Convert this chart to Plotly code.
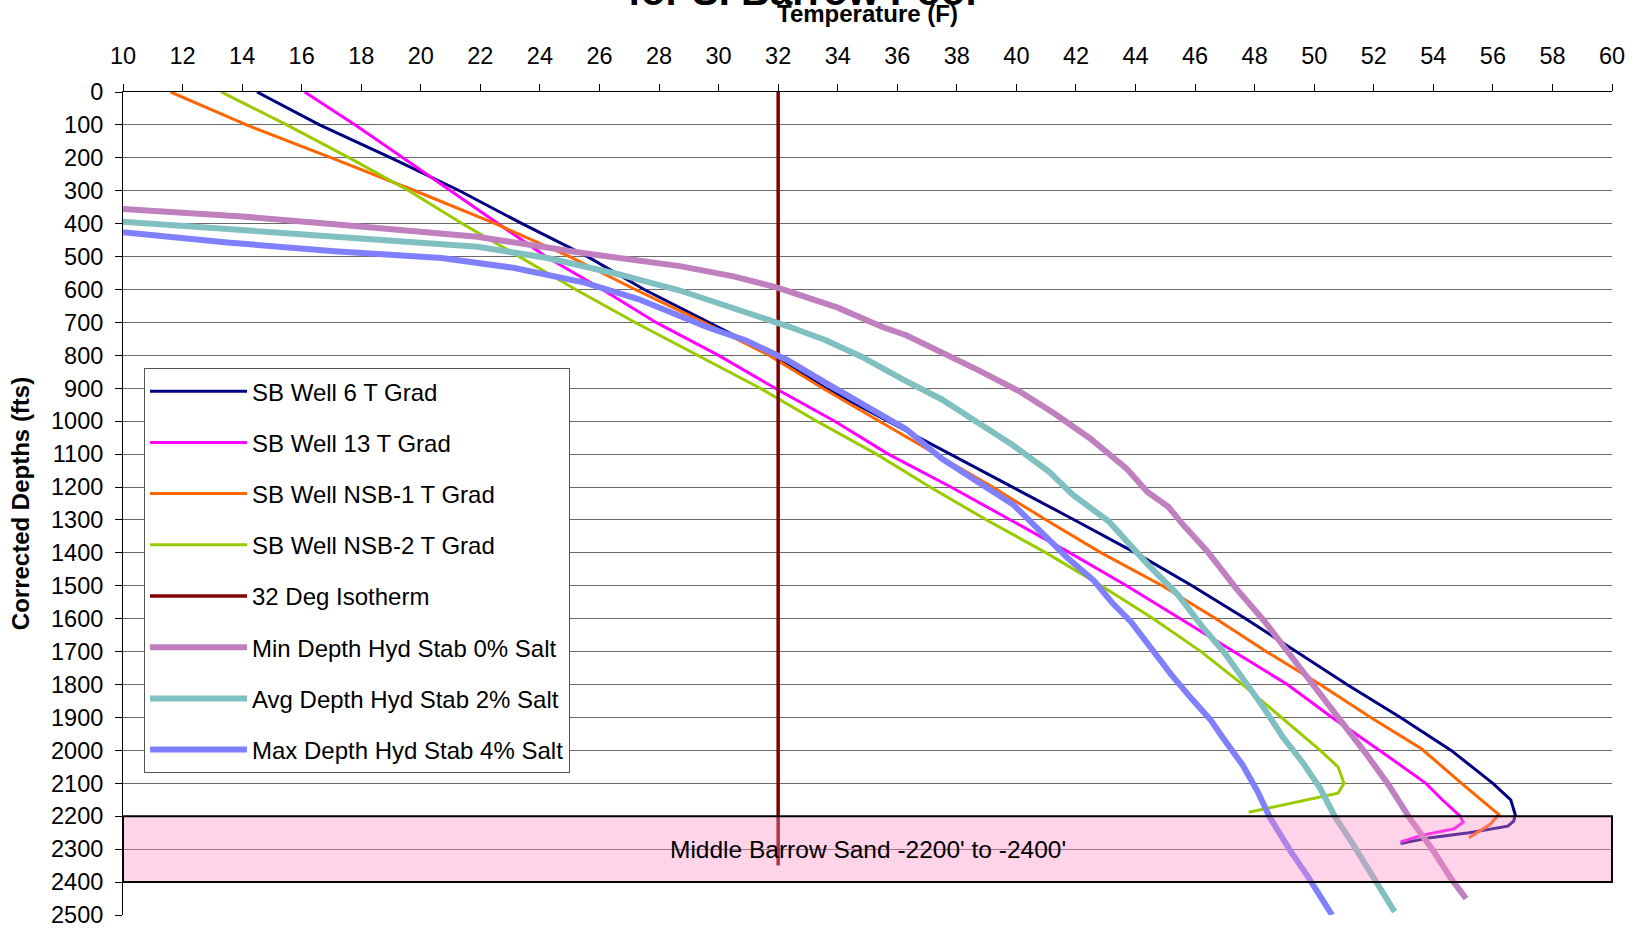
import plotly.graph_objects as go

# ---------------- data ----------------
well6_depth = [0, 100, 200, 300, 400, 500, 600, 700, 800, 900, 1000, 1100, 1200, 1300, 1400, 1500,
               1600, 1700, 1800, 1900, 2000, 2100, 2150, 2195, 2215, 2230, 2250, 2265, 2283]
well6_temp = [14.5, 16.6, 19.0, 21.3, 23.4, 25.6, 27.5, 29.7, 31.85, 33.6, 35.7, 37.8, 39.9, 41.95, 44.0, 45.9,
              47.7, 49.4, 51.1, 52.9, 54.6, 56.0, 56.6, 56.75, 56.7, 56.5, 55.2, 53.9, 52.9]

well13_depth = [0, 100, 200, 300, 400, 500, 600, 700, 800, 900, 1000, 1100, 1200, 1300, 1400, 1500,
                1600, 1700, 1800, 1900, 2000, 2100, 2150, 2200, 2218, 2238, 2258, 2278]
well13_temp = [16.1, 17.8, 19.4, 21.0, 22.6, 24.2, 26.1, 27.9, 30.0, 31.9, 33.9, 35.7, 37.8, 39.8, 41.8, 43.7,
               45.5, 47.3, 49.1, 50.6, 52.2, 53.75, 54.3, 54.9, 55.0, 54.7, 53.6, 52.9]

nsb1_depth = [0, 100, 200, 300, 400, 500, 600, 700, 800, 900, 1000, 1100, 1200, 1300, 1400, 1500,
              1600, 1700, 1800, 1900, 1995, 2100, 2195, 2225, 2265]
nsb1_temp = [11.6, 14.15, 17.0, 19.8, 22.5, 25.0, 27.2, 29.5, 31.7, 33.5, 35.4, 37.3, 39.2, 41.0, 42.85, 44.9,
             46.7, 48.4, 50.2, 51.9, 53.6, 54.95, 56.2, 55.9, 55.2]

nsb2_depth = [0, 100, 200, 300, 400, 500, 600, 700, 800, 900, 1000, 1100, 1200, 1300, 1400, 1500,
              1600, 1700, 1800, 1900, 2000, 2050, 2100, 2130, 2150, 2170, 2188]
nsb2_temp = [13.3, 15.5, 17.6, 19.6, 21.4, 23.3, 25.2, 27.2, 29.3, 31.4, 33.3, 35.3, 37.1, 39.0, 41.0, 42.85,
             44.6, 46.2, 47.6, 48.9, 50.2, 50.8, 51.0, 50.8, 49.8, 48.8, 47.8]

iso_temp = [32, 32]
iso_depth = [0, 2350]

min0_temp = [10, 14.0, 17.1, 21.9, 25.5, 28.7, 30.5, 32.0, 34.0, 35.5, 36.3, 37.5, 38.7, 40.1, 41.3, 42.5,
             43.7, 44.4, 45.1, 45.6, 46.4, 47.4, 48.35, 49.15, 50.05, 50.85, 51.7, 52.5, 53.2, 54.0, 54.6, 55.1]
min0_depth = [355, 378, 402, 440, 490, 529, 560, 595, 655, 714, 739, 789, 844, 909, 978, 1054,
              1144, 1215, 1260, 1315, 1394, 1510, 1610, 1705, 1810, 1905, 2005, 2105, 2205, 2305, 2390, 2450]

avg2_temp = [10, 13.5, 17.1, 21.9, 24.3, 26.7, 28.7, 30.5, 32.4, 33.6, 34.8, 36.2, 37.5, 38.7, 39.9, 41.1,
             41.9, 43.1, 43.8, 44.4, 45.4, 46.25, 47.0, 47.65, 48.3, 48.95, 49.6, 50.2, 50.7, 51.3, 52.0, 52.7]
avg2_depth = [394, 415, 440, 470, 505, 555, 603, 655, 714, 754, 804, 874, 934, 1004, 1074, 1154,
              1224, 1304, 1374, 1434, 1525, 1625, 1705, 1785, 1870, 1960, 2035, 2115, 2202, 2285, 2390, 2490]

max4_temp = [10, 13.5, 17.1, 20.7, 23.1, 25.5, 27.3, 28.7, 29.6, 30.9, 32.3, 33.8, 35.0, 36.3, 37.5, 38.7,
             39.9, 40.8, 41.7, 42.6, 43.2, 43.85, 44.5, 45.2, 45.9, 46.5, 47.0, 47.6, 48.1, 48.5, 49.2, 49.8, 50.6]
max4_depth = [426, 457, 484, 504, 534, 579, 629, 679, 714, 754, 814, 894, 954, 1024, 1114, 1184,
              1254, 1334, 1414, 1484, 1550, 1610, 1690, 1770, 1845, 1905, 1970, 2045, 2125, 2202, 2305, 2385, 2500]

band_top = 2200
band_bottom = 2400
band_label = "Middle Barrow Sand -2200' to -2400'"

x_ticks = list(range(10, 61, 2))
y_ticks = list(range(0, 2501, 100))

# ---------------- figure ----------------
FONT = "Arial, Liberation Sans, sans-serif"
fig = go.Figure()

series = [
    ("SB Well 6 T Grad", well6_temp, well6_depth, "#000080", 3),
    ("SB Well 13 T Grad", well13_temp, well13_depth, "#FF00FF", 3),
    ("SB Well NSB-1 T Grad", nsb1_temp, nsb1_depth, "#FF6600", 3),
    ("SB Well NSB-2 T Grad", nsb2_temp, nsb2_depth, "#99CC00", 3),
    ("32 Deg Isotherm", iso_temp, iso_depth, "#800000", 3.5),
    ("Min Depth Hyd Stab 0% Salt", min0_temp, min0_depth, "#C080C0", 6),
    ("Avg Depth Hyd Stab 2% Salt", avg2_temp, avg2_depth, "#80C0C0", 6),
    ("Max Depth Hyd Stab 4% Salt", max4_temp, max4_depth, "#8080FF", 6),
]
for i, (name, xs, ys, col, w) in enumerate(series):
    fig.add_trace(go.Scatter(x=xs, y=ys, mode="lines", name=name, legendgroup=f"g{i}",
                             line=dict(color=col, width=w), cliponaxis=True))

fig.add_shape(type="rect", xref="paper", yref="y", x0=0, x1=1, y0=band_top, y1=band_bottom,
              fillcolor="rgba(255,140,195,0.38)", line=dict(color="black", width=2), layer="above")
fig.add_annotation(x=35, y=(band_top + band_bottom) / 2, text=band_label, showarrow=False,
                   font=dict(size=24.5, color="black", family=FONT))

fig.update_layout(
    width=1637, height=940,
    margin=dict(l=123, r=24, t=92, b=15),
    paper_bgcolor="white", plot_bgcolor="white",
    font=dict(family=FONT, color="black", size=23.5),
    title=dict(text="<b>for S. Barrow Pool</b>", x=0.49, xanchor="center",
               y=0.9947, yanchor="bottom", yref="container", font=dict(size=40)),
    xaxis=dict(side="top", range=[10, 60], tickvals=x_ticks, showgrid=False, zeroline=False,
               showline=True, linecolor="black", linewidth=1, ticks="outside", ticklen=7,
               tickcolor="black", tickfont=dict(size=23.5), ticklabelstandoff=11,
               title=dict(text="<b>Temperature (F)</b>", font=dict(size=24), standoff=14)),
    yaxis=dict(range=[2500, 0], tickvals=y_ticks, showgrid=True, gridcolor="#6a6a6a", gridwidth=1,
               zeroline=False, showline=True, linecolor="black", linewidth=1, ticks="outside",
               ticklen=7, tickcolor="black", tickfont=dict(size=23.5), ticklabelstandoff=7,
               title=dict(text="<b>Corrected Depths (fts)</b>", font=dict(size=24), standoff=14)),
    legend=dict(x=0.0141, y=0.6645, xanchor="left", yanchor="top", bgcolor="white",
                bordercolor="#555555", borderwidth=1, font=dict(size=24), tracegroupgap=17,
                itemwidth=97, entrywidth=430, entrywidthmode="pixels"),
    showlegend=True,
)

fig.write_html("out.html", config={"displayModeBar": False},
               post_script="document.body.style.margin='0';")
